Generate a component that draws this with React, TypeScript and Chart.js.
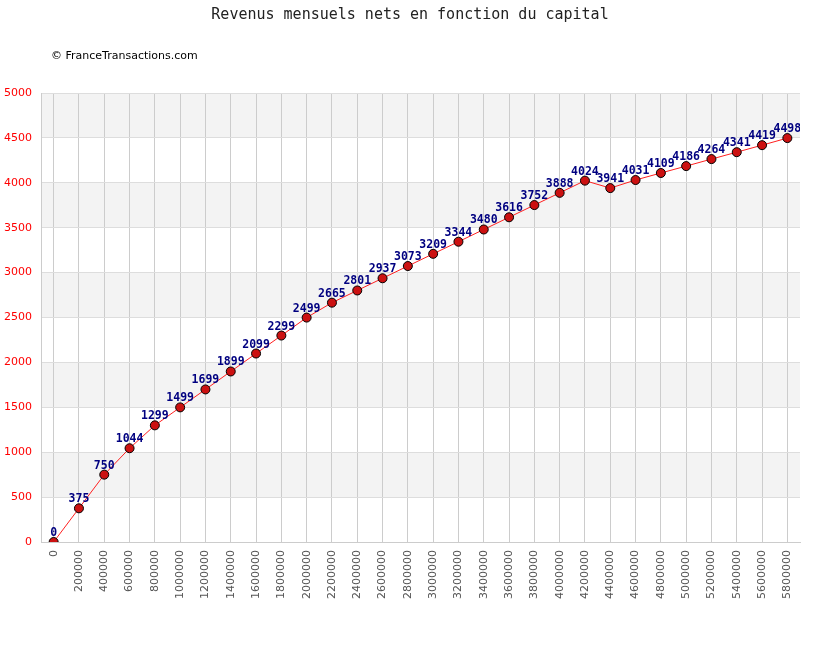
import React, { useEffect, useRef } from "react";
import { Chart, registerables } from "chart.js";

Chart.register(...registerables);

const capital: number[] = [
  0, 200000, 400000, 600000, 800000, 1000000, 1200000, 1400000, 1600000, 1800000,
  2000000, 2200000, 2400000, 2600000, 2800000, 3000000, 3200000, 3400000, 3600000, 3800000,
  4000000, 4200000, 4400000, 4600000, 4800000, 5000000, 5200000, 5400000, 5600000, 5800000,
];
const revenus: number[] = [
  0, 375, 750, 1044, 1299, 1499, 1699, 1899, 2099, 2299,
  2499, 2665, 2801, 2937, 3073, 3209, 3344, 3480, 3616, 3752,
  3888, 4024, 3941, 4031, 4109, 4186, 4264, 4341, 4419, 4498,
];
const grayBands: [number, number][] = [
  [500, 1000], [1500, 2000], [2500, 3000], [3500, 4000], [4500, 5000],
];
const titleText = "Revenus mensuels nets en fonction du capital";
const creditText = "© FranceTransactions.com";

const bandsPlugin = {
  id: "bands",
  beforeDraw(chart: any) {
    const { ctx, chartArea, scales } = chart;
    const y = scales.y;
    ctx.save();
    ctx.fillStyle = "#f3f3f3";
    for (const [a, b] of grayBands) {
      const y1 = y.getPixelForValue(b);
      const y2 = y.getPixelForValue(a);
      ctx.fillRect(chartArea.left, y1, chartArea.right - chartArea.left, y2 - y1);
    }
    ctx.restore();
  },
};

const textPlugin = {
  id: "texts",
  afterDraw(chart: any) {
    const { ctx } = chart;
    ctx.save();
    ctx.fillStyle = "#222";
    ctx.font = "15px 'DejaVu Sans Mono', monospace";
    ctx.textAlign = "center";
    ctx.textBaseline = "alphabetic";
    ctx.fillText(titleText, 410, 19);
    ctx.fillStyle = "#000";
    ctx.font = "11px 'DejaVu Sans', sans-serif";
    ctx.textAlign = "left";
    ctx.fillText(creditText, 51, 59);
    ctx.restore();
  },
};

const labelsPlugin = {
  id: "pointLabels",
  afterDatasetsDraw(chart: any) {
    const { ctx, chartArea } = chart;
    const meta = chart.getDatasetMeta(0);
    ctx.save();
    ctx.beginPath();
    ctx.rect(chartArea.left, chartArea.top - 20, chartArea.right - chartArea.left, chartArea.bottom - chartArea.top + 20);
    ctx.clip();
    ctx.fillStyle = "#000080";
    ctx.font = "bold 11.5px 'DejaVu Sans Mono', monospace";
    ctx.textAlign = "center";
    ctx.textBaseline = "alphabetic";
    meta.data.forEach((pt: any, i: number) => {
      ctx.fillText(String(revenus[i]), pt.x, pt.y - 6);
    });
    ctx.restore();
  },
};

export default function App() {
  const ref = useRef<HTMLCanvasElement | null>(null);
  useEffect(() => {
    if (!ref.current) return;
    const chart = new Chart(ref.current, {
      type: "line",
      data: {
        labels: capital.map(String),
        datasets: [
          {
            data: revenus,
            borderColor: "#ff2020",
            borderWidth: 1,
            pointRadius: 4.5,
            pointHoverRadius: 4.5,
            pointBackgroundColor: "#cc1111",
            pointBorderColor: "#000",
            pointBorderWidth: 1,
            tension: 0,
            fill: false,
          },
        ],
      },
      options: {
        animation: false,
        responsive: false,
        devicePixelRatio: 1,
        events: [],
        layout: { padding: { top: 93, right: 20, left: 0, bottom: 0 } },
        plugins: {
          legend: { display: false },
          title: { display: false },
          tooltip: { enabled: false },
        },
        scales: {
          x: {
            type: "category",
            offset: true,
            grid: { offset: false, color: "#cccccc", drawTicks: false, lineWidth: 1 },
            border: { color: "#cccccc" },
            ticks: {
              autoSkip: false,
              minRotation: 90,
              maxRotation: 90,
              padding: 8,
              color: "#555555",
              font: { family: "'DejaVu Sans', sans-serif", size: 11 },
            },
            afterFit(scale: any) {
              scale.height = 108;
            },
          },
          y: {
            min: 0,
            max: 5000,
            grid: { color: "#dddddd", drawTicks: false },
            border: { color: "#cccccc" },
            ticks: {
              stepSize: 500,
              padding: 9,
              color: "#ff0000",
              font: { family: "'DejaVu Sans', sans-serif", size: 11 },
              callback: (v: any) => String(v),
            },
            afterFit(scale: any) {
              scale.width = 41;
            },
          },
        },
      },
      plugins: [bandsPlugin, labelsPlugin, textPlugin],
    });
    return () => chart.destroy();
  }, []);
  return (
    <div style={{ position: "absolute", left: 0, top: 0, width: 820, height: 650, background: "#fff" }}>
      <canvas ref={ref} width={820} height={650} style={{ display: "block" }} />
    </div>
  );
}
